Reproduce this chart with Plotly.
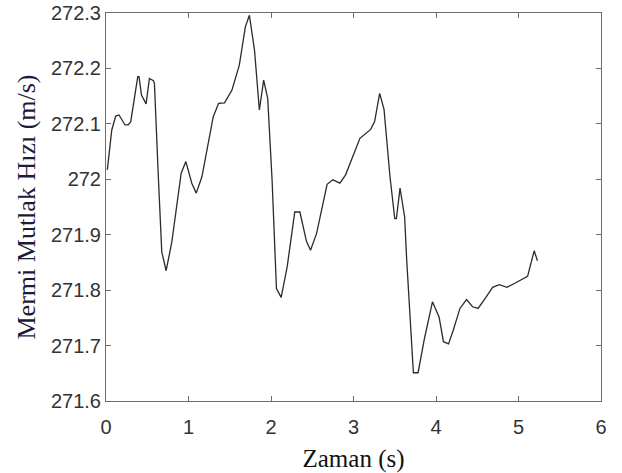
import plotly.graph_objects as go

time_s = [0.016, 0.07, 0.118, 0.158, 0.23, 0.27, 0.30, 0.385, 0.40, 0.43, 0.486, 0.526, 0.575, 0.587,
          0.636, 0.676, 0.729, 0.798, 0.911, 0.968, 1.04, 1.094, 1.163, 1.30, 1.365, 1.437, 1.527,
          1.616, 1.689, 1.738, 1.80, 1.859, 1.911, 1.96, 2.013, 2.066, 2.123, 2.196, 2.288, 2.35,
          2.43, 2.479, 2.552, 2.68, 2.75, 2.835, 2.904, 3.078, 3.208, 3.256, 3.317, 3.37, 3.442,
          3.50, 3.52, 3.564, 3.62, 3.645, 3.726, 3.783, 3.856, 3.957, 4.038, 4.09, 4.152, 4.21,
          4.29, 4.37, 4.443, 4.51, 4.605, 4.686, 4.767, 4.86, 4.95, 5.06, 5.11, 5.19, 5.23]
velocity = [272.017, 272.089, 272.114, 272.116, 272.098, 272.098, 272.104, 272.185, 272.185, 272.152,
            272.136, 272.182, 272.178, 272.173, 271.999, 271.869, 271.835, 271.887, 272.011, 272.032,
            271.993, 271.975, 272.005, 272.113, 272.137, 272.138, 272.161, 272.206, 272.275, 272.296,
            272.233, 272.125, 272.179, 272.146, 271.999, 271.803, 271.787, 271.842, 271.941, 271.941,
            271.888, 271.872, 271.902, 271.991, 271.999, 271.993, 272.008, 272.074, 272.09, 272.104,
            272.155, 272.126, 272.005, 271.929, 271.929, 271.984, 271.932, 271.854, 271.651, 271.651,
            271.710, 271.779, 271.751, 271.707, 271.703, 271.728, 271.767, 271.783, 271.770, 271.767,
            271.787, 271.805, 271.810, 271.805, 271.812, 271.820, 271.825, 271.871, 271.853]

x_ticks = [0, 1, 2, 3, 4, 5, 6]
y_ticks = [271.6, 271.7, 271.8, 271.9, 272.0, 272.1, 272.2, 272.3]
y_tick_text = ["271.6", "271.7", "271.8", "271.9", "272", "272.1", "272.2", "272.3"]

fig = go.Figure()
fig.add_trace(go.Scatter(x=time_s, y=velocity, mode="lines",
                         line=dict(color="#2b2b2b", width=1.3), showlegend=False))

axis_common = dict(showgrid=False, zeroline=False, showline=True, linecolor="#6e6e6e", linewidth=1,
                   mirror="ticks", ticks="inside", ticklen=5, tickcolor="#6e6e6e", automargin=False,
                   tickfont=dict(family="Liberation Sans, Arial", size=20, color="#333333"))

fig.update_layout(
    width=622, height=473,
    margin=dict(l=106, r=21, t=13, b=72),
    paper_bgcolor="white", plot_bgcolor="white",
    xaxis=dict(range=[0, 6], tickvals=x_ticks, ticklabelstandoff=8,
               title=dict(text="Zaman (s)",
                          font=dict(family="Liberation Serif, Times New Roman", size=25, color="#111111"),
                          standoff=14),
               **axis_common),
    yaxis=dict(range=[271.6, 272.3], tickvals=y_ticks, ticktext=y_tick_text,
               title=dict(text="Mermi Mutlak Hızı (m/s)",
                          font=dict(family="Liberation Serif, Times New Roman", size=26, color="#1c1c3a"),
                          standoff=7),
               **axis_common),
)

fig.write_html("out.html")
